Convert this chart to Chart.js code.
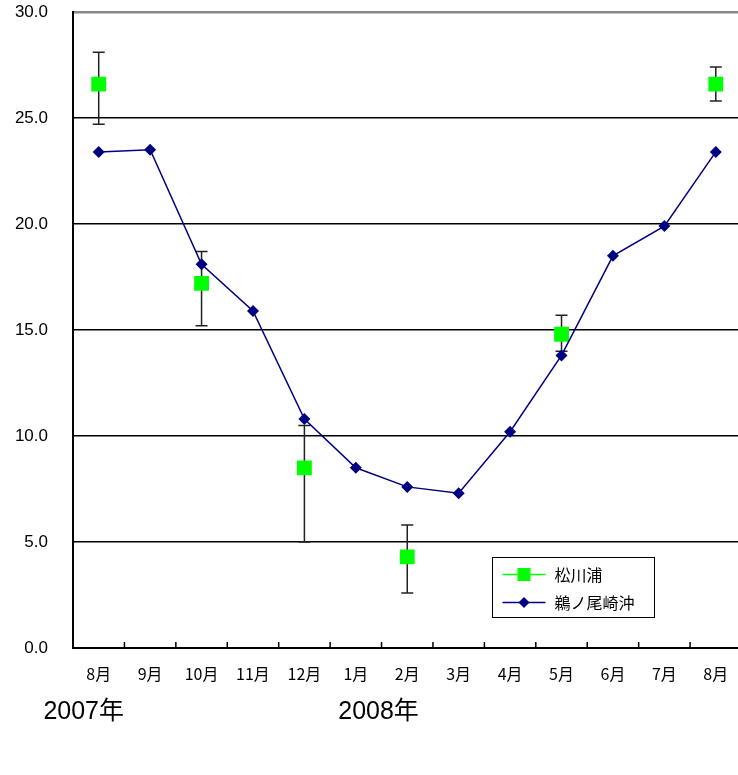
<!DOCTYPE html>
<html>
<head>
<meta charset="utf-8">
<script src="https://cdn.jsdelivr.net/npm/chart.js@4/dist/chart.umd.min.js"></script>
<style>
  html, body { margin: 0; padding: 0; background: #fff; overflow: hidden; }
  #wrap { width: 752px; height: 775px; }
</style>
</head>
<body>
<div id="wrap"><canvas id="tempChart" width="752" height="775"></canvas></div>
<script>
// 月ラベル（2007年8月〜2008年8月）
const months = ['8月', '9月', '10月', '11月', '12月', '1月', '2月', '3月', '4月', '5月', '6月', '7月', '8月'];
const yearLabels = ['2007年', '2008年'];

// 鵜ノ尾崎沖
const unoozaki = [23.4, 23.5, 18.1, 15.9, 10.8, 8.5, 7.6, 7.3, 10.2, 13.8, 18.5, 19.9, 23.4];

// 松川浦（平均・最大・最小）
const matsukawa = [26.6, null, 17.2, null, 8.5, null, 4.3, null, null, 14.8, null, null, 26.6];
const matsukawaMax = [28.1, null, 18.7, null, 10.5, null, 5.8, null, null, 15.7, null, null, 27.4];
const matsukawaMin = [24.7, null, 15.2, null, 5.0, null, 2.6, null, null, 14.0, null, null, 25.8];

const yTicks = [0, 5, 10, 15, 20, 25, 30];

// 誤差棒
const errorBars = {
    id: 'errorBars',
    beforeDatasetsDraw(chart) {
        const ctx = chart.ctx;
        const x = chart.scales.x, y = chart.scales.y;
        ctx.save();
        ctx.strokeStyle = '#222';
        ctx.lineWidth = 1.5;
        matsukawa.forEach((v, i) => {
            if (v === null) return;
            const px = x.getPixelForValue(i);
            const top = y.getPixelForValue(matsukawaMax[i]);
            const bot = y.getPixelForValue(matsukawaMin[i]);
            ctx.beginPath();
            ctx.moveTo(px, top); ctx.lineTo(px, bot);
            ctx.moveTo(px - 6, top); ctx.lineTo(px + 6, top);
            ctx.moveTo(px - 6, bot); ctx.lineTo(px + 6, bot);
            ctx.stroke();
        });
        ctx.restore();
    }
};

// 目盛り・年・凡例
const extras = {
    id: 'extras',
    afterDraw(chart) {
        const ctx = chart.ctx;
        const x = chart.scales.x;
        const area = chart.chartArea;
        ctx.save();
        // x軸の内向き目盛り
        ctx.strokeStyle = '#000';
        ctx.lineWidth = 1.5;
        for (let k = 1; k < months.length; k++) {
            const bx = (x.getPixelForValue(k - 1) + x.getPixelForValue(k)) / 2;
            ctx.beginPath();
            ctx.moveTo(bx, area.bottom);
            ctx.lineTo(bx, area.bottom - 6);
            ctx.stroke();
        }
        // 年
        ctx.fillStyle = '#000';
        ctx.font = '25px "Liberation Sans", "Noto Sans CJK JP"';
        ctx.textAlign = 'center';
        ctx.textBaseline = 'middle';
        ctx.fillText(yearLabels[0], x.getPixelForValue(0) - 15, 712);
        ctx.fillText(yearLabels[1], (x.getPixelForValue(5) + x.getPixelForValue(6)) / 2 - 3, 712);

        // 凡例
        const lx = 492.5, ly = 557.5, lw = 162, lh = 60;
        ctx.fillStyle = '#fff';
        ctx.fillRect(lx, ly, lw, lh);
        ctx.strokeStyle = '#000';
        ctx.lineWidth = 1;
        ctx.strokeRect(lx, ly, lw, lh);
        const rows = [
            { label: chart.data.datasets[1].label, color: '#00ff00', style: 'rect', y: ly + 17 },
            { label: chart.data.datasets[0].label, color: '#000080', style: 'rectRot', y: ly + 45 }
        ];
        rows.forEach(r => {
            ctx.strokeStyle = r.color;
            ctx.lineWidth = 1.5;
            ctx.beginPath();
            ctx.moveTo(lx + 10, r.y); ctx.lineTo(lx + 53, r.y);
            ctx.stroke();
            ctx.fillStyle = r.color;
            if (r.style === 'rect') {
                ctx.fillRect(lx + 31.5 - 6.5, r.y - 6.5, 13, 13);
            } else {
                ctx.beginPath();
                ctx.moveTo(lx + 31.5, r.y - 5.5);
                ctx.lineTo(lx + 37, r.y);
                ctx.lineTo(lx + 31.5, r.y + 5.5);
                ctx.lineTo(lx + 26, r.y);
                ctx.closePath();
                ctx.fill();
            }
            ctx.fillStyle = '#000';
            ctx.font = '16px "Noto Sans CJK JP"';
            ctx.textAlign = 'left';
            ctx.fillText(r.label, lx + 62, r.y);
        });
        ctx.restore();
    }
};

new Chart(document.getElementById('tempChart').getContext('2d'), {
    type: 'line',
    data: {
        labels: months,
        datasets: [{
            label: '鵜ノ尾崎沖',
            data: unoozaki,
            borderColor: '#000080',
            backgroundColor: '#000080',
            borderWidth: 1.5,
            pointStyle: 'rectRot',
            pointRadius: 6,
            pointBorderWidth: 0,
            tension: 0
        }, {
            label: '松川浦',
            data: matsukawa,
            showLine: false,
            borderColor: '#00ff00',
            backgroundColor: '#00ff00',
            pointStyle: 'rect',
            pointRadius: 10.5,
            pointBorderWidth: 0
        }]
    },
    options: {
        responsive: false,
        animation: false,
        layout: { padding: { top: 12, right: 4, left: 0, bottom: 0 } },
        plugins: {
            legend: { display: false },
            tooltip: { enabled: false }
        },
        scales: {
            x: {
                offset: true,
                grid: { display: false, drawTicks: false, offset: true },
                border: { display: true, color: '#000', width: 2 },
                ticks: {
                    color: '#000',
                    font: { family: '"Noto Sans CJK JP"', size: 16 },
                    padding: 16,
                    maxRotation: 0,
                    autoSkip: false
                },
                afterFit(scale) {
                    scale.height = 127;
                    scale.paddingLeft = 0;
                    scale.paddingRight = 0;
                }
            },
            y: {
                min: yTicks[0],
                max: yTicks[yTicks.length - 1],
                afterBuildTicks(scale) { scale.ticks = yTicks.map(v => ({ value: v })); },
                grid: {
                    color: ctx => ctx.tick && ctx.tick.value === 30 ? '#888' : '#000',
                    lineWidth: ctx => ctx.tick && ctx.tick.value === 30 ? 2.5 : 1.5,
                    drawTicks: false
                },
                border: { display: true, color: '#000', width: 2 },
                ticks: {
                    color: '#000',
                    font: { family: '"Liberation Sans"', size: 17 },
                    padding: 25,
                    callback: v => Number(v).toFixed(1)
                },
                afterFit(scale) {
                    scale.width = 73;
                    scale.paddingTop = 0;
                    scale.paddingBottom = 0;
                }
            }
        }
    },
    plugins: [errorBars, extras]
});
</script>
</body>
</html>
